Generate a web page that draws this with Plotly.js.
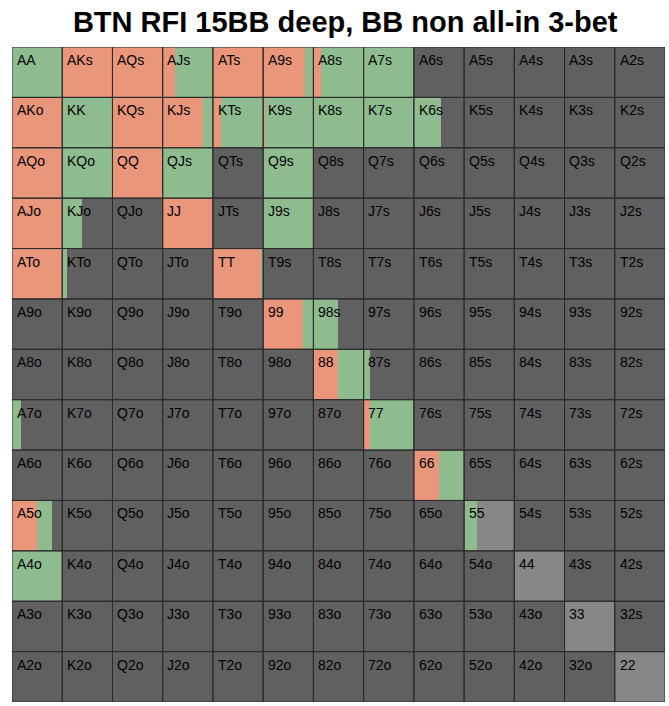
<!DOCTYPE html>
<html>
<head>
<meta charset="utf-8">
<script src="https://cdn.plot.ly/plotly-3.0.1.min.js"></script>
<style>html,body{margin:0;padding:0;background:#fff;}#chart{width:669px;height:706px;}</style>
</head>
<body>
<div id="chart"></div>
<script>
const ranks = ['A','K','Q','J','T','9','8','7','6','5','4','3','2'];

// fraction of each hand that is raised (all-in / orange)
const raiseFreq = [
  [0,1,1,0.25,1,0.84,0.15,0,0,0,0,0,0],
  [1,0,1,0.80,0.16,0.04,0,0,0,0,0,0,0],
  [1,0,1,0,0,0,0,0,0,0,0,0,0],
  [1,0,0,1,0,0,0,0,0,0,0,0,0],
  [1,0,0,0,0.965,0,0,0,0,0,0,0,0],
  [0,0,0,0,0,0.80,0,0,0,0,0,0,0],
  [0,0,0,0,0,0,0.49,0,0,0,0,0,0],
  [0,0,0,0,0,0,0,0.12,0,0,0,0,0],
  [0,0,0,0,0,0,0,0,0.51,0,0,0,0],
  [0.49,0,0,0,0,0,0,0,0,0,0,0,0],
  [0,0,0,0,0,0,0,0,0,0,0,0,0],
  [0,0,0,0,0,0,0,0,0,0,0,0,0],
  [0,0,0,0,0,0,0,0,0,0,0,0,0]
];
// fraction called (green)
const callFreq = [
  [1,0,0,0.75,0,0.16,0.85,1,0,0,0,0,0],
  [0,1,0,0.20,0.84,0.96,1,1,0.55,0,0,0,0],
  [0,1,0,1,0,1,0,0,0,0,0,0,0],
  [0,0.40,0,0,0,1,0,0,0,0,0,0,0],
  [0,0.10,0,0,0.035,0,0,0,0,0,0,0,0],
  [0,0,0,0,0,0.20,0.49,0,0,0,0,0,0],
  [0,0,0,0,0,0,0.51,0.12,0,0,0,0,0],
  [0.18,0,0,0,0,0,0,0.88,0,0,0,0,0],
  [0,0,0,0,0,0,0,0,0.49,0,0,0,0],
  [0.31,0,0,0,0,0,0,0,0,0.25,0,0,0],
  [1,0,0,0,0,0,0,0,0,0,0,0,0],
  [0,0,0,0,0,0,0,0,0,0,0,0,0],
  [0,0,0,0,0,0,0,0,0,0,0,0,0]
];
// fraction in the light-grey group
const otherFreq = [
  [0,0,0,0,0,0,0,0,0,0,0,0,0],
  [0,0,0,0,0,0,0,0,0,0,0,0,0],
  [0,0,0,0,0,0,0,0,0,0,0,0,0],
  [0,0,0,0,0,0,0,0,0,0,0,0,0],
  [0,0,0,0,0,0,0,0,0,0,0,0,0],
  [0,0,0,0,0,0,0,0,0,0,0,0,0],
  [0,0,0,0,0,0,0,0,0,0,0,0,0],
  [0,0,0,0,0,0,0,0,0,0,0,0,0],
  [0,0,0,0,0,0,0,0,0,0,0,0,0],
  [0,0,0,0,0,0,0,0,0,0.75,0,0,0],
  [0,0,0,0,0,0,0,0,0,0,1,0,0],
  [0,0,0,0,0,0,0,0,0,0,0,1,0],
  [0,0,0,0,0,0,0,0,0,0,0,0,1]
];

const colors = {raise:'#E9967A', call:'#8FBC8F', fold:'#606060', other:'#878787'};

function handLabel(r, c) {
  if (r === c) return ranks[r] + ranks[c];
  if (c > r) return ranks[r] + ranks[c] + 's';
  return ranks[c] + ranks[r] + 'o';
}

const segs = {raise:{x:[],y:[],b:[]}, call:{x:[],y:[],b:[]}, other:{x:[],y:[],b:[]}, fold:{x:[],y:[],b:[]}};
const cellX = [], cellY = [], cellB = [];
const annotations = [];
for (let r = 0; r < 13; r++) {
  for (let c = 0; c < 13; c++) {
    const rf = raiseFreq[r][c], cf = callFreq[r][c], of = otherFreq[r][c];
    const ff = Math.max(0, 1 - rf - cf - of);
    let off = c;
    [['raise', rf], ['call', cf], ['fold', ff], ['other', of]].forEach(([k, v]) => {
      if (v > 0.0001) {
        segs[k].x.push(v); segs[k].y.push(r + 0.5); segs[k].b.push(off);
        off += v;
      }
    });
    cellX.push(1); cellY.push(r + 0.5); cellB.push(c);
    annotations.push({
      x: c + 0.055, y: r + 0.06, xref: 'x', yref: 'y',
      xanchor: 'left', yanchor: 'top', showarrow: false,
      text: handLabel(r, c),
      font: {family: 'Liberation Sans, Arial, sans-serif', size: 14, color: '#000'}
    });
  }
}

const traces = ['raise', 'call', 'fold', 'other'].map(k => ({
  type: 'bar', orientation: 'h',
  x: segs[k].x, y: segs[k].y, base: segs[k].b, width: 1,
  marker: {color: colors[k], line: {width: 0}},
  hoverinfo: 'skip', showlegend: false
}));
traces.push({
  type: 'bar', orientation: 'h',
  x: cellX, y: cellY, base: cellB, width: 1,
  marker: {color: 'rgba(0,0,0,0)', line: {width: 1, color: '#2b2b2b'}},
  hoverinfo: 'skip', showlegend: false
});

const layout = {
  width: 669, height: 706,
  margin: {l: 12, r: 4, t: 47, b: 4},
  paper_bgcolor: '#ffffff', plot_bgcolor: '#606060',
  barmode: 'overlay', bargap: 0,
  title: {
    text: '<b>BTN RFI 15BB deep, BB non all-in 3-bet</b>',
    font: {family: 'Liberation Sans, Arial, sans-serif', size: 29, color: '#000'},
    x: 0.516, xref: 'container', xanchor: 'center',
    y: 0.969, yref: 'container', yanchor: 'middle'
  },
  xaxis: {range: [0, 13], showgrid: false, zeroline: false, showticklabels: false, ticks: '', fixedrange: true},
  yaxis: {range: [13, 0], showgrid: false, zeroline: false, showticklabels: false, ticks: '', fixedrange: true},
  annotations: annotations,
  hovermode: false
};

Plotly.newPlot('chart', traces, layout, {displayModeBar: false, staticPlot: true});
</script>
</body>
</html>
